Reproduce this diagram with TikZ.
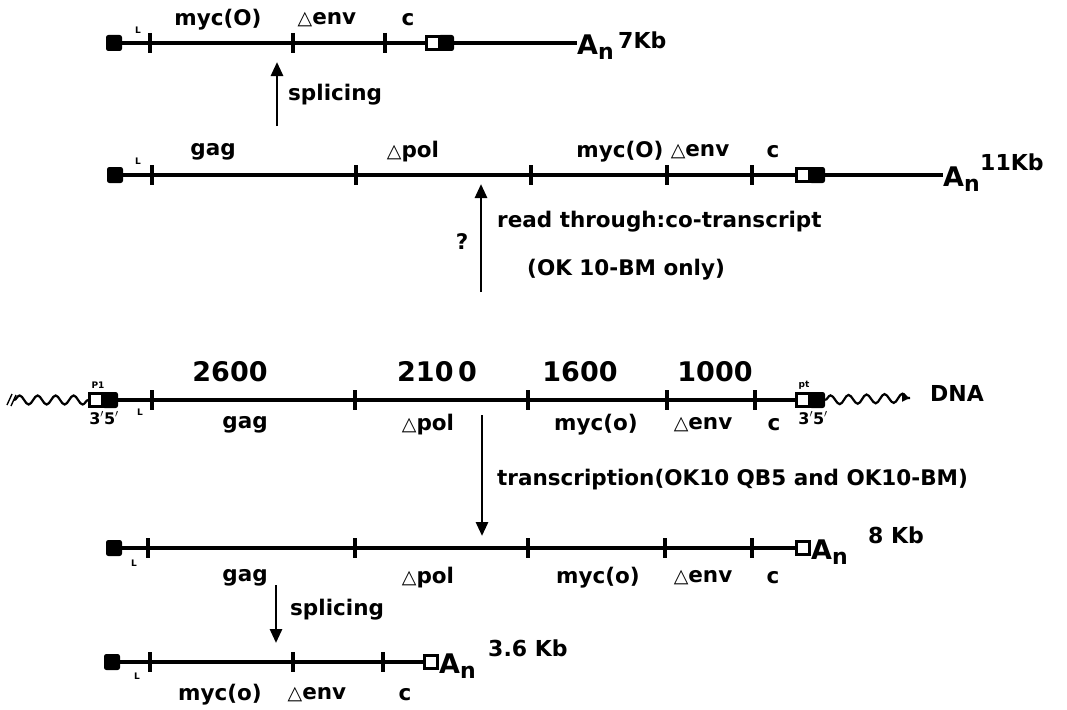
\documentclass[tikz,border=0pt]{standalone}
\usepackage{fontspec}
\setmainfont{DejaVu Sans}
\usetikzlibrary{arrows.meta,decorations.pathmorphing}
\newcommand{\dl}{{\fontsize{19}{19}\selectfont\mdseries △}}
\newcommand{\An}{{\bfseries\fontsize{27}{27}\selectfont A\raisebox{-0.35ex}{\fontsize{22}{22}\selectfont n}}}
\tikzset{
  rna/.style={line width=4.5pt},
  tick/.style={line width=4pt},
  fsq/.style={draw, fill=black, line width=1pt, minimum width=15pt, minimum height=15pt, inner sep=0pt, rounded corners=2pt},
  osq/.style={draw, fill=white, line width=2.4pt, minimum width=13pt, minimum height=13pt, inner sep=0pt},
  lab/.style={font=\bfseries\fontsize{21.5}{21.5}\selectfont, inner sep=0pt},
  num/.style={font=\bfseries\fontsize{27}{27}\selectfont, inner sep=0pt},
  note/.style={font=\bfseries\fontsize{21.5}{21.5}\selectfont, inner sep=0pt, anchor=west},
  tiny/.style={font=\bfseries\fontsize{9}{9}\selectfont, inner sep=0pt},
  prime/.style={font=\bfseries\fontsize{16}{16}\selectfont, inner sep=0pt},
  size/.style={font=\bfseries\fontsize{22}{22}\selectfont, inner sep=0pt, anchor=west},
  poly/.style={inner sep=0pt, anchor=west},
  arr/.style={line width=2.8pt, -{Triangle[length=14pt,width=12pt]}},
  wave/.style={line width=2.2pt, decorate, decoration={snake, amplitude=4.5pt, segment length=18pt}}
}
\begin{document}
\begin{tikzpicture}[x=1pt,y=-1pt]
\useasboundingbox (0,0) rectangle (1067,709);

% ---- 7 Kb spliced RNA ----
\node[fsq] (s1) at (114,43) {};
\node[osq] (o1) at (433,43) {};
\node[fsq] (f1) at (446,43) {};
\node[poly] (a1) at (577,47) {\An};
\draw[rna] (s1.east) -- (o1.west);
\draw[rna] (f1.east) -- (a1.west |- f1.east);
\foreach \t in {150,293,385} \draw[tick] (\t,33) -- (\t,53);
\node[tiny] (l1) at (138,30) {L};
\node[lab] (g1a) at (218,20) {myc(O)};
\node[lab] (g1b) at (327,20) {\dl env};
\node[lab] (g1c) at (408,20) {c};
\node[size] (k1) at (618,40) {7Kb};

% ---- 11 Kb read-through RNA ----
\node[fsq] (s2) at (115,175) {};
\node[osq] (o2) at (803,175) {};
\node[fsq] (f2) at (817,175) {};
\node[poly] (a2) at (943,179) {\An};
\draw[rna] (s2.east) -- (o2.west);
\draw[rna] (f2.east) -- (a2.west |- f2.east);
\foreach \t in {152,356,531,667,752} \draw[tick] (\t,165) -- (\t,185);
\node[tiny] (l2) at (138,161) {L};
\node[lab] (g2a) at (213,152) {gag};
\node[lab] (g2b) at (413,152) {\dl pol};
\node[lab] (g2c) at (620,152) {myc(O)};
\node[lab] (g2d) at (700,152) {\dl env};
\node[lab] (g2e) at (773,152) {c};
\node[size] (k2) at (980,162) {11Kb};

% splicing 11 Kb -> 7 Kb
\coordinate (sp1a) at (277,126);
\coordinate (sp1b) at (277,62);
\draw[arr] (sp1a) -- (sp1b);
\node[note] (sp1t) at (288,95) {splicing};

% read-through arrow
\coordinate (rta) at (481,292);
\coordinate (rtb) at (481,184);
\draw[arr] (rta) -- (rtb);
\node[lab] (q) at (462,242) {?};
\node[note] (rt1) at (497,222) {read through:co-transcript};
\node[note] (rt2) at (527,270) {(OK 10-BM only)};

% ---- proviral DNA ----
\node[osq] (o3l) at (96,400) {};
\node[fsq] (f3l) at (110,400) {};
\node[osq] (o3r) at (803,400) {};
\node[fsq] (f3r) at (817,400) {};
\coordinate (w0) at (14,400);
\coordinate (w1) at (910,398);
\draw[wave] (w0) -- (o3l.west);
\draw[rna] (f3l.east) -- (o3r.west);
\draw[wave] (f3r.east) -- (w1);
\draw[line width=2pt, -{Triangle[length=8pt,width=7pt]}] ([xshift=-5pt]w1) -- (w1);
\draw[line width=1.4pt] (7,405) -- (12,394) (11,406) -- (16,395);
\foreach \t in {152,355,528,667,755} \draw[tick] (\t,390) -- (\t,410);
\node[tiny] (p1) at (98,385) {P1};
\node[tiny] (p2) at (804,385) {pt};
\node[prime] (pr1) at (104,418) {3$'$5$'$};
\node[prime] (pr2) at (813,418) {3$'$5$'$};
\node[tiny] (l3) at (140,412) {L};
\node[num] (n1) at (230,372) {2600};
\node[num] (n2) at (437,372) {210\,0};
\node[num] (n3) at (580,372) {1600};
\node[num] (n4) at (715,372) {1000};
\node[lab] (g3a) at (245,425) {gag};
\node[lab] (g3b) at (428,425) {\dl pol};
\node[lab] (g3c) at (596,425) {myc(o)};
\node[lab] (g3d) at (703,425) {\dl env};
\node[lab] (g3e) at (774,425) {c};
\node[size] (dna) at (930,393) {DNA};

% transcription arrow
\coordinate (tra) at (482,415);
\coordinate (trb) at (482,536);
\draw[arr] (tra) -- (trb);
\node[note] (trt) at (497,480) {transcription(OK10 QB5 and OK10-BM)};

% ---- 8 Kb genomic RNA ----
\node[fsq] (s4) at (114,548) {};
\node[osq] (o4) at (803,548) {};
\node[poly] (a4) at (811,552) {\An};
\draw[rna] (s4.east) -- (o4.west);
\foreach \t in {148,355,528,665,752} \draw[tick] (\t,538) -- (\t,558);
\node[tiny] (l4) at (134,563) {L};
\node[lab] (g4a) at (245,578) {gag};
\node[lab] (g4b) at (428,578) {\dl pol};
\node[lab] (g4c) at (598,578) {myc(o)};
\node[lab] (g4d) at (703,578) {\dl env};
\node[lab] (g4e) at (773,578) {c};
\node[size] (k4) at (868,535) {8 Kb};

% splicing 8 Kb -> 3.6 Kb
\coordinate (sp2a) at (276,585);
\coordinate (sp2b) at (276,643);
\draw[arr] (sp2a) -- (sp2b);
\node[note] (sp2t) at (290,610) {splicing};

% ---- 3.6 Kb spliced RNA ----
\node[fsq] (s5) at (112,662) {};
\node[osq] (o5) at (431,662) {};
\node[poly] (a5) at (439,666) {\An};
\draw[rna] (s5.east) -- (o5.west);
\foreach \t in {150,293,383} \draw[tick] (\t,652) -- (\t,672);
\node[tiny] (l5) at (137,676) {L};
\node[lab] (g5a) at (220,695) {myc(o)};
\node[lab] (g5b) at (317,695) {\dl env};
\node[lab] (g5c) at (405,695) {c};
\node[size] (k5) at (488,648) {3.6 Kb};
\end{tikzpicture}
\end{document}
